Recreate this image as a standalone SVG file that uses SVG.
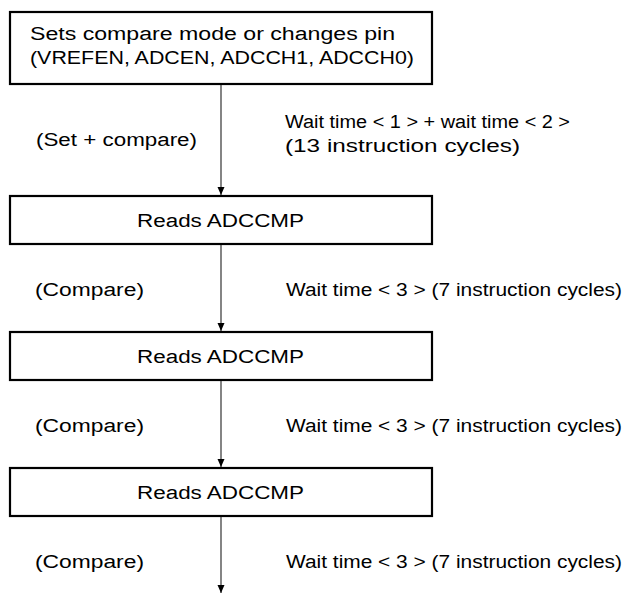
<svg xmlns="http://www.w3.org/2000/svg" width="625" height="598" viewBox="0 0 625 598">
<style>
.box{fill:#fff;stroke:#000;stroke-width:2.2}
.t{font-family:"Liberation Sans",Arial,sans-serif;font-size:18px;fill:#000}
.ln{stroke:#333;stroke-width:1.2;fill:none}
</style>
<defs>
<marker id="ah" markerWidth="8" markerHeight="12" refX="8" refY="6" orient="auto" markerUnits="userSpaceOnUse">
<path d="M0,2.5 L8,6 L0,9.5 Z" fill="#000"/>
</marker>
</defs>
<g id="n1"><rect class="box" x="10" y="12" width="422" height="72"/>
<text class="t" x="30" y="40" textLength="365" lengthAdjust="spacingAndGlyphs">Sets compare mode or changes pin</text>
<text class="t" x="30" y="64" textLength="384" lengthAdjust="spacingAndGlyphs">(VREFEN, ADCEN, ADCCH1, ADCCH0)</text></g>
<g id="n2"><rect class="box" x="10" y="196" width="422" height="48"/>
<text class="t" x="137" y="227" textLength="167" lengthAdjust="spacingAndGlyphs">Reads ADCCMP</text></g>
<g id="n3"><rect class="box" x="10" y="332" width="422" height="48"/>
<text class="t" x="137" y="363" textLength="167" lengthAdjust="spacingAndGlyphs">Reads ADCCMP</text></g>
<g id="n4"><rect class="box" x="10" y="468" width="422" height="48"/>
<text class="t" x="137" y="499" textLength="167" lengthAdjust="spacingAndGlyphs">Reads ADCCMP</text></g>
<g id="connectors">
<line class="ln" x1="221" y1="85" x2="221" y2="195" marker-end="url(#ah)"/>
<line class="ln" x1="221" y1="245" x2="221" y2="331" marker-end="url(#ah)"/>
<line class="ln" x1="221" y1="381" x2="221" y2="467" marker-end="url(#ah)"/>
<line class="ln" x1="221" y1="517" x2="221" y2="593" marker-end="url(#ah)"/>
</g>
<g id="labels">
<text class="t" x="36" y="146" textLength="161" lengthAdjust="spacingAndGlyphs">(Set + compare)</text>
<text class="t" x="285" y="128" textLength="285" lengthAdjust="spacingAndGlyphs">Wait time &lt; 1 &gt; + wait time &lt; 2 &gt;</text>
<text class="t" x="285" y="152" textLength="235" lengthAdjust="spacingAndGlyphs">(13 instruction cycles)</text>
<text class="t" x="35" y="296" textLength="109" lengthAdjust="spacingAndGlyphs">(Compare)</text>
<text class="t" x="286" y="296" textLength="336" lengthAdjust="spacingAndGlyphs">Wait time &lt; 3 &gt; (7 instruction cycles)</text>
<text class="t" x="35" y="432" textLength="109" lengthAdjust="spacingAndGlyphs">(Compare)</text>
<text class="t" x="286" y="432" textLength="336" lengthAdjust="spacingAndGlyphs">Wait time &lt; 3 &gt; (7 instruction cycles)</text>
<text class="t" x="35" y="568" textLength="109" lengthAdjust="spacingAndGlyphs">(Compare)</text>
<text class="t" x="286" y="568" textLength="336" lengthAdjust="spacingAndGlyphs">Wait time &lt; 3 &gt; (7 instruction cycles)</text>
</g>
</svg>
